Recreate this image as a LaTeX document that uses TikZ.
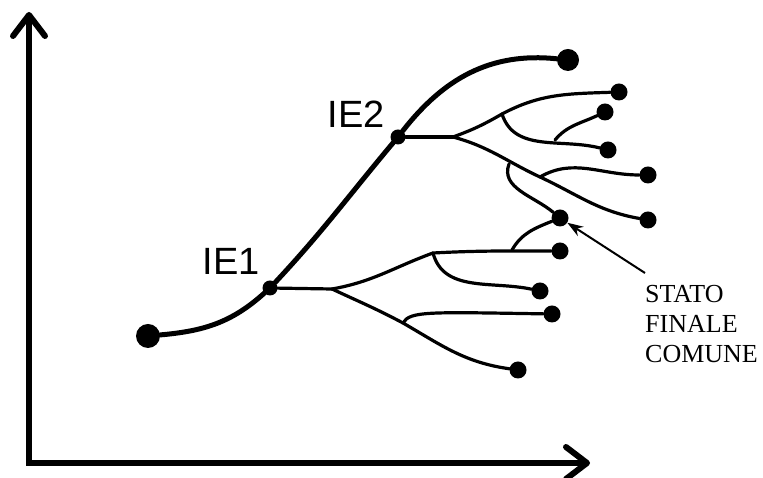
\documentclass[tikz,border=0pt]{standalone}
\usepackage{fontspec}
\setmainfont{Liberation Serif}
\newfontfamily\labelfont{Liberation Sans}
\usetikzlibrary{arrows.meta}
\definecolor{inkblack}{HTML}{000000}
\tikzset{
  axis/.style={draw=inkblack, line width=6pt,
    {Straight Barb[length=21pt,width=32pt,round]}-{Straight Barb[length=21pt,width=32pt,round]}},
  trunk/.style={draw=inkblack, line width=5pt, line cap=round},
  branch/.style={draw=inkblack, line width=3.2pt, line cap=round},
  dot/.style={circle, fill=inkblack, inner sep=0pt, minimum size=17pt},
  bigdot/.style={dot, minimum size=24pt},
  knot/.style={dot, minimum size=15pt},
  ielbl/.style={font=\labelfont\fontsize{38}{38}\selectfont, inner sep=0pt},
  note/.style={font=\fontsize{26}{30}\selectfont, align=left, inner sep=0pt,
               anchor=north west},
  pointer/.style={draw=inkblack, line width=2pt, -{Stealth[length=16pt,width=11pt]}},
}

\begin{document}
\begin{tikzpicture}[x=1pt, y=1pt]
\useasboundingbox (0,0) rectangle (763,478);

% axes
\draw[axis] (29,466) |- (590,15);

% trunk and event points
\node[bigdot] (start) at (148,142) {};
\node[knot] (ie1) at (270,190) {};
\node[knot] (ie2) at (398,341) {};
\node[dot, minimum size=22pt] (top) at (568,418) {};
\node[ielbl] (lbl1) at (231,217) {IE1};
\node[ielbl] (lbl2) at (356,364) {IE2};

\draw[trunk] (start) to[out=5,in=222] (ie1) to[out=47,in=230] (ie2)
  to[out=52,in=174] (top);

% end states
\node[dot] (a1) at (560,227) {};
\node[dot] (a2) at (540,187) {};
\node[dot] (a3) at (552,164) {};
\node[dot] (a4) at (518,108) {};
\node[dot] (common) at (560,260) {};
\node[dot] (b1) at (619,386) {};
\node[dot] (b2) at (605,366) {};
\node[dot] (b3) at (608,328) {};
\node[dot] (b4) at (648,303) {};
\node[dot] (b5) at (648,258) {};

% ---------------------------------------------- tree after IE1
\coordinate (p1) at (332,189);
\coordinate (q1) at (433,225);
\coordinate (r1) at (512,228);
\coordinate (q2) at (403,155);

\draw[branch] (ie1) -- (p1);
\draw[branch] (p1) to[out=10,in=200] (q1) to[out=3,in=180] (a1);
\draw[branch] (q1) to[out=-75,in=168] (a2);
\draw[branch] (r1) to[out=60,in=202] (common);
\draw[branch] (p1) to[out=-25,in=152] (q2) to[out=-30,in=172] (a4);
\draw[branch] (q2) .. controls (410,167) and (428,166) .. (a3);

% ---------------------------------------------- tree after IE2
\coordinate (p2) at (453,341);
\coordinate (q3) at (502,364);
\coordinate (r2) at (555,338);
\coordinate (q4) at (540,301);
\coordinate (s2) at (509,314);

\draw[branch] (ie2) -- (p2);
\draw[branch] (p2) to[out=20,in=210] (q3) to[out=28,in=182] (b1);
\draw[branch] (q3) to[out=-72,in=166] (b3);
\draw[branch] (r2) to[out=50,in=205] (b2);
\draw[branch] (p2) to[out=-15,in=155] (q4) to[out=-25,in=170] (b5);
\draw[branch] (q4) to[out=30,in=180] (b4);
\draw[branch] (s2) to[out=250,in=140] (common);

% common final state
\node[note] (caption) at (645,193) {STATO\\FINALE\\COMUNE};
\draw[pointer] ([yshift=12pt]caption.north west) -- (common);

\end{tikzpicture}
\end{document}
